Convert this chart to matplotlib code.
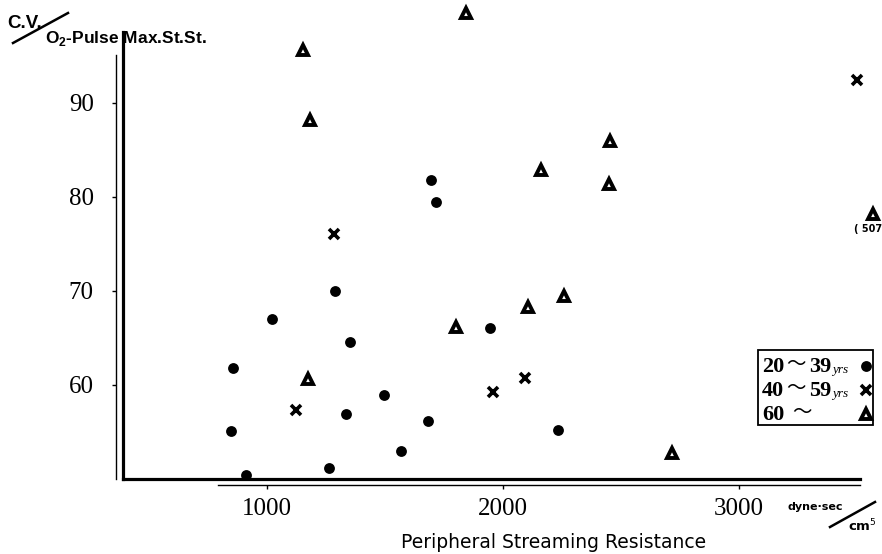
import matplotlib
matplotlib.use("Agg")
import matplotlib.pyplot as plt
from matplotlib.lines import Line2D
from matplotlib.patches import Rectangle

# Peripheral streaming resistance (dyne*sec/cm^5) vs C.V./O2-pulse at max steady state
young_x = [847, 911, 856, 1021, 1263, 1288, 1335, 1352, 1496, 1568, 1682, 1695, 1716, 1945, 2233]
young_y = [55.1, 50.4, 61.8, 67.0, 51.2, 70.0, 56.9, 64.6, 58.9, 53.0, 56.2, 81.8, 79.5, 66.1, 55.2]

middle_x = [1123, 1284, 1958, 2093, 3500]
middle_y = [57.3, 76.1, 59.3, 60.7, 92.4]

old_x = [1153, 1182, 1174, 1801, 1843, 2106, 2161, 2258, 2453, 2449, 2716, 3568]
old_y = [95.6, 88.2, 60.6, 66.2, 99.6, 68.3, 82.9, 69.5, 86.0, 81.4, 52.8, 78.2]

x_ticks = [1000, 2000, 3000]
y_ticks = [60, 70, 80, 90]
age_from = ["20", "40", "60"]
age_to = ["39", "59", ""]

W, H = 882, 554


def fpos(x, y):
    """pixel position -> figure fraction"""
    return x / W, 1 - y / H


ink = "black"
styles = [
    dict(marker="o", color=ink, ms=7.8, mew=0),
    dict(marker="x", color=ink, ms=7, mew=2.6),
    dict(marker="^", color=ink, mfc="white", mec=ink, ms=7, mew=2.8),
]

fig = plt.figure(figsize=(W / 100, H / 100), dpi=100)
ax = fig.add_axes([123 / W, 1 - 479 / H, (W - 123) / W, (479 - 8) / H])
ax.set_xlim(390, 3606)
ax.set_ylim(50, 100.1)

for xs, ys, st in zip([young_x, middle_x, old_x], [young_y, middle_y, old_y], styles):
    ax.plot(xs, ys, ls="none", clip_on=False, **st)

# off-scale value note beside the far-right triangle
ax.annotate("( 507", (old_x[-1], old_y[-1]), xytext=(-14, -13), textcoords="offset points",
            fontsize=7, fontweight="bold", annotation_clip=False)

# thin outer axes carry the ticks, thick inner L is drawn on the data edge
for side in ("top", "right"):
    ax.spines[side].set_visible(False)
ax.spines["left"].set_position(("outward", 5))
ax.spines["left"].set_bounds(50, 95.1)
ax.spines["bottom"].set_position(("outward", 4.5))
ax.spines["bottom"].set_bounds(792, 3513)
for side in ("left", "bottom"):
    ax.spines[side].set_linewidth(1.0)
ax.plot([390, 390], [50, 97.6], color=ink, lw=2.3, clip_on=False, solid_capstyle="projecting")
ax.plot([390, 3513], [50, 50], color=ink, lw=2.3, clip_on=False, solid_capstyle="projecting")

ax.set_xticks(x_ticks)
ax.set_yticks(y_ticks)
ax.tick_params(direction="out", length=3, width=1, labelsize=18)
ax.tick_params(axis="y", pad=13)
ax.tick_params(axis="x", pad=6)
for lab in ax.get_xticklabels() + ax.get_yticklabels():
    lab.set_family("Liberation Serif")

# y-axis caption:  C.V. / O2-Pulse Max.St.St.
fig.text(*fpos(7, 28), "C.V.", fontsize=13.5, family="Liberation Sans", fontweight="bold",
         va="baseline")
fig.text(*fpos(45, 43), r"O$_\mathregular{2}$-Pulse Max.St.St.", fontsize=12.5,
         family="Liberation Sans", fontweight="bold", va="baseline")
fig.add_artist(Line2D([13 / W, 68 / W], [1 - 43 / H, 1 - 13 / H], color=ink, lw=1.8))

# x-axis caption and unit
fig.text(*fpos(554, 548), "Peripheral Streaming Resistance", fontsize=13.5,
         family="DejaVu Sans", ha="center", va="baseline")
fig.text(*fpos(788, 510), "dyne\u00b7sec", fontsize=8, fontweight="bold", va="baseline")
fig.text(*fpos(848, 531), r"cm$^5$", fontsize=9.5, fontweight="bold", va="baseline")
fig.add_artist(Line2D([830 / W, 875 / W], [1 - 527 / H, 1 - 502 / H], color=ink, lw=1.8))

# age-group key: "from ~ to yrs" on the left, symbol on the right
fig.add_artist(Rectangle(fpos(758, 425), 115 / W, 75 / H, transform=fig.transFigure,
                         fill=False, ec=ink, lw=1.3))
serif = dict(fontsize=16, fontweight="bold", va="baseline", family="Liberation Serif")
for i, (lo, hi, st) in enumerate(zip(age_from, age_to, styles)):
    base = 372 + 24 * i
    fig.text(*fpos(762, base), lo, **serif)
    tilde_x = 786 if hi else 792
    fig.text(*fpos(tilde_x, base - 2), "\uff5e", fontsize=14, va="baseline",
             family="Noto Sans CJK JP")
    if hi:
        fig.text(*fpos(809, base), hi, **serif)
        fig.text(*fpos(832, base + 1), "yrs", fontsize=9.5, style="italic", va="baseline",
                 family="Liberation Serif")
    fig.add_artist(Line2D([866 / W], [1 - (base - 6) / H], ls="none", **st))

fig.savefig("out.png", dpi=100)
